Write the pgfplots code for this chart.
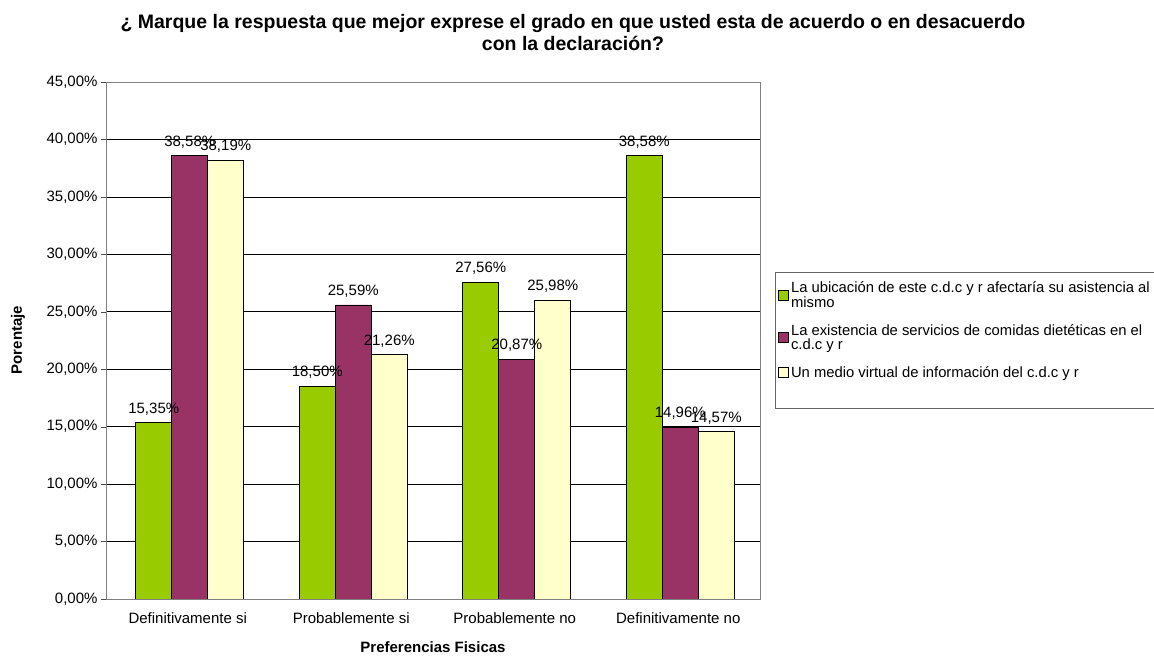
\documentclass[border=0pt]{standalone}
\usepackage{fontspec}
\setmainfont{Liberation Sans}
\usepackage{pgfplots}
\pgfplotsset{compat=1.18}
\definecolor{cgreen}{HTML}{99CC00}
\definecolor{cpurple}{HTML}{993366}
\definecolor{cyellow}{HTML}{FFFFCC}
\newcommand{\lbl}{\fontsize{15bp}{16bp}\selectfont}
\newcommand{\leg}{\fontsize{14.8bp}{13.5bp}\selectfont}
\begin{document}
\begin{tikzpicture}[x=1bp,y=1bp]
\useasboundingbox (0,0) rectangle (1154,657);
% legend frame
\draw[black!60, line width=0.8bp] (775,249) rectangle (1165,385);
\begin{axis}[
  at={(106bp,58bp)}, anchor=south west,
  scale only axis, width=654bp, height=517bp,
  xmin=-0.5, xmax=3.5, ymin=0, ymax=45,
  ybar=0pt, bar width=36bp,
  xtick={0,1,2,3},
  xticklabels={Definitivamente si, Probablemente si, Probablemente no, Definitivamente no},
  major x tick style={draw=none},
  extra x ticks={-0.5,0.5,1.5,2.5,3.5},
  extra x tick labels={},
  extra x tick style={grid=none, major tick length=5bp, tick style={draw=black!70}},
  ytick={0,5,...,45},
  yticklabel={\pgfmathprintnumber[fixed,fixed zerofill,precision=2,use comma]{\tick}\%},
  ymajorgrids, grid style={black, line width=0.6bp},
  major y tick style={draw=black!70},
  major tick length=5bp,
  tick align=outside, tick pos=left,
  axis line style={draw=black!50, line width=0.8bp},
  ticklabel style={font=\lbl},
  /pgf/number format/assume math mode=true,
  xticklabel style={yshift=-5bp},
  nodes near coords={\pgfmathprintnumber[fixed,fixed zerofill,precision=2,use comma]{\pgfplotspointmeta}\%},
  nodes near coords style={font=\lbl, black, yshift=4bp},
  every axis plot/.append style={draw=black, line width=0.6bp, xshift=2bp},
  legend style={
    at={(1.023,0.632)}, anchor=north west, yshift=-4bp,
    draw=none, fill=none,
    font=\leg, cells={align=left, anchor=west},
    row sep=12bp, inner sep=3bp,
  },
  legend cell align=left,
  legend image code/.code={\draw[#1, draw=black, line width=0.8bp] (0bp,-5bp) rectangle (10bp,5bp);},
]
\addplot[fill=cgreen] coordinates {(0,15.35) (1,18.50) (2,27.56) (3,38.58)};
\addlegendentry{La ubicación de este c.d.c y r afectaría su asistencia al\\mismo}
\addplot[fill=cpurple] coordinates {(0,38.58) (1,25.59) (2,20.87) (3,14.96)};
\addlegendentry{La existencia de servicios de comidas dietéticas en el\\c.d.c y r}
\addplot[fill=cyellow] coordinates {(0,38.19) (1,21.26) (2,25.98) (3,14.57)};
\addlegendentry{Un medio virtual de información del c.d.c y r}
\end{axis}
\node[font=\fontsize{19.5bp}{22bp}\selectfont\bfseries, align=center] at (573,624)
  {¿ Marque la respuesta que mejor exprese el grado en que usted esta de acuerdo o en desacuerdo\\con la declaración?};
\node[font=\fontsize{15bp}{16bp}\selectfont\bfseries, rotate=90] at (18,317) {Porentaje};
\node[font=\fontsize{15bp}{16bp}\selectfont\bfseries] at (433,10) {Preferencias Fisicas};
\end{tikzpicture}
\end{document}
